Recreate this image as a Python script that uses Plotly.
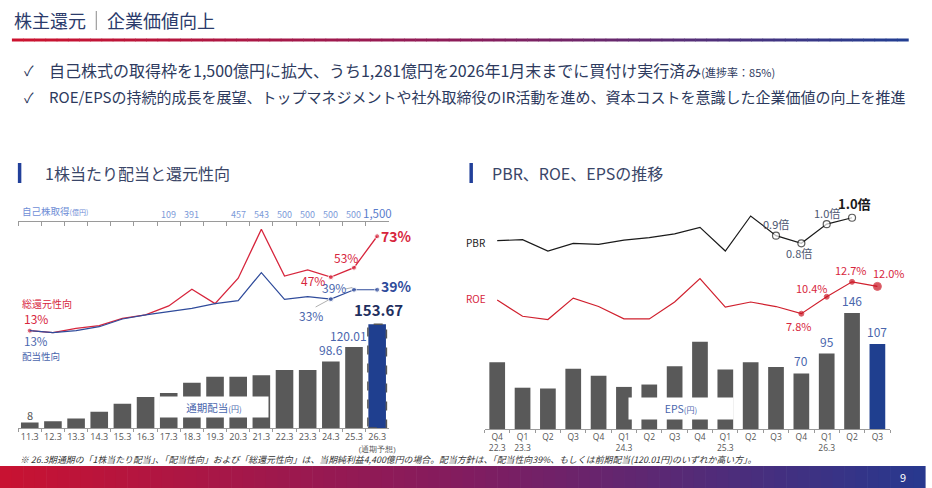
import plotly.graph_objects as go

W, H = 932, 488
FONT = "Noto Sans CJK JP, DejaVu Sans, sans-serif"

# ---- data: 1株当たり配当と還元性向 ----
fy_labels = ["11.3", "12.3", "13.3", "14.3", "15.3", "16.3", "17.3", "18.3",
             "19.3", "20.3", "21.3", "22.3", "23.3", "24.3", "25.3", "26.3"]
fy_ticktext = fy_labels[:-1] + ["26.3<br><span style='font-size:8px'>(通期予想)</span>"]
dividend = [8, 10, 14, 24, 36, 46, 52, 67, 76, 76, 78, 86, 86, 98.6, 120.01, 153.67]
total_return = [13, 11.7, 14.5, 16.2, 20.8, 23, 28.7, 39.3, 30.2, 46.3, 77.4, 47.7, 51.6, 47, 53, 73]
payout = [13, 11.7, 13, 15.5, 20.4, 23, 25.1, 27.2, 30.2, 32.1, 49.9, 32.9, 34.6, 33, 39, 39]
buyback = [None, None, None, None, None, None, 109, 391, None, 457, 543, 500, 500, 500, 500, 1500]

# ---- data: PBR, ROE, EPS ----
q_keys = ["q%d" % i for i in range(16)]
q_ticktext = ["Q4<br>22.3", "Q1<br>23.3", "Q2", "Q3", "Q4", "Q1<br>24.3", "Q2", "Q3",
              "Q4", "Q1<br>25.3", "Q2", "Q3", "Q4", "Q1<br>26.3", "Q2", "Q3"]
eps = [84, 52, 51, 76, 67, 53, 56, 79, 110, 75, 84, 78, 70, 95, 146, 107]
pbr = [0.825, 0.834, 0.728, 0.80, 0.79, 0.83, 0.853, 0.888, 0.95, 0.728, 1.056, 0.872, 0.80, 0.98, 1.04]
roe = [9.9, 7.4, 6.9, 10.2, 8.9, 7.0, 7.0, 9.6, 13.2, 8.8, 9.6, 8.9, 7.8, 10.4, 12.7, 12.0]


def X(px):
    return px / W


def Y(py):
    return 1 - py / H


GRAY = "#595959"
NAVY = "#1f3f8f"
RED = "#d7263d"
BLUE = "#2f4b9b"
LBLUE = "#4a66ad"
TXT = "#2d3a5e"

fig = go.Figure()

# left chart
fig.add_trace(go.Bar(
    x=fy_labels, y=dividend, width=0.76,
    marker=dict(color=[GRAY] * 15 + [NAVY], line=dict(width=0)),
    xaxis="x", yaxis="y", hoverinfo="skip"))
fig.add_trace(go.Scatter(
    x=fy_labels, y=total_return, mode="lines+markers",
    line=dict(color=RED, width=1.3),
    marker=dict(color=RED, size=[5] + [0] * 12 + [5, 5, 5]),
    xaxis="x", yaxis="y2", hoverinfo="skip"))
fig.add_trace(go.Scatter(
    x=fy_labels, y=payout, mode="lines+markers",
    line=dict(color=BLUE, width=1.2),
    marker=dict(color=BLUE, size=[0] * 13 + [5, 5, 5]),
    xaxis="x", yaxis="y2", hoverinfo="skip"))
# top axis for 自己株取得
fig.add_trace(go.Scatter(
    x=fy_labels, y=[0] * 16, mode="markers", marker=dict(opacity=0),
    xaxis="x3", yaxis="y", hoverinfo="skip"))

# right chart
fig.add_trace(go.Bar(
    x=q_keys, y=eps, width=0.62,
    marker=dict(color=[GRAY] * 15 + [NAVY], line=dict(width=0)),
    xaxis="x2", yaxis="y3", hoverinfo="skip"))
fig.add_trace(go.Scatter(
    x=q_keys[:15], y=pbr, mode="lines+markers",
    line=dict(color="#1a1a1a", width=1.2),
    marker=dict(color="white", size=[0] * 11 + [7, 7, 7, 7],
                line=dict(color="#1a1a1a", width=[0] * 11 + [1.2] * 4)),
    xaxis="x2", yaxis="y4", hoverinfo="skip"))
fig.add_trace(go.Scatter(
    x=q_keys, y=roe, mode="lines+markers",
    line=dict(color="#d0202e", width=1.2),
    marker=dict(color="#c8101e", size=[0] * 12 + [5, 5, 5, 8]),
    xaxis="x2", yaxis="y5", hoverinfo="skip"))

ann = []


def note(x, y, text, size=11, color=TXT, xanchor="center", yanchor="middle",
         xref="paper", yref="paper", xshift=0, yshift=0, **kw):
    ann.append(dict(x=x, y=y, text=text, xref=xref, yref=yref, showarrow=False,
                    xanchor=xanchor, yanchor=yanchor, xshift=xshift, yshift=yshift,
                    font=dict(family=FONT, size=size, color=color), **kw))


# header
note(X(12), Y(20), "株主還元", size=18, color="#2b3b6b", xanchor="left")
note(X(106), Y(20), "企業価値向上", size=18, color="#2b3b6b", xanchor="left")
note(X(22), Y(70), "✓", size=14, color=TXT, xanchor="left")
note(X(22), Y(97), "✓", size=14, color=TXT, xanchor="left")
note(X(47), Y(70), "自己株式の取得枠を1,500億円に拡大、うち1,281億円を2026年1月末までに買付け実行済み"
     "<span style='font-size:11px'>(進捗率：85%)</span>", size=16, color=TXT, xanchor="left")
note(X(47), Y(97), "ROE/EPSの持続的成長を展望、トップマネジメントや社外取締役のIR活動を進め、資本コストを意識した企業価値の向上を推進",
     size=15, color=TXT, xanchor="left")
note(X(43), Y(173), "1株当たり配当と還元性向", size=16, color="#3a4668", xanchor="left")
note(X(494), Y(173), "PBR、ROE、EPSの推移", size=16, color="#3a4668", xanchor="left")

# left chart texts (x given as category index)
note(X(20), Y(211), "自己株取得<span style='font-size:7px'>(億円)</span>", size=9.5,
     color="#6f8ed6", xanchor="left")
for i, v in enumerate(buyback):
    if v is None:
        continue
    if i == 15:
        note(i, Y(213), "{:,}".format(v), size=11.5, color="#5a7ccc", xref="x")
    else:
        note(i, Y(214), "{:,}".format(v), size=9, color="#7b9ad8", xref="x")

note(X(20), Y(356), "配当性向", size=9.5, color=LBLUE, xanchor="left")
note(X(20), Y(303), "総還元性向", size=10, color=RED, xanchor="left")
note(0, total_return[0], "13%", size=12, color=RED, xref="x", yref="y2",
     xshift=6, yshift=12)
note(0, payout[0], "13%", size=11.5, color=LBLUE, xref="x", yref="y2",
     xshift=6, yshift=-10)
note(13, total_return[13], "47%", size=12, color=RED, xref="x", yref="y2",
     xanchor="right", xshift=-4, yshift=-3)
note(14, total_return[14], "53%", size=12, color=RED, xref="x", yref="y2",
     xshift=-8, yshift=10)
note(15, total_return[15], "<b>73%</b>", size=14, color=RED, xref="x",
     yref="y2", xanchor="left", xshift=2)
note(14, payout[14], "39%", size=12, color=LBLUE, xref="x", yref="y2",
     xanchor="right", xshift=-6, yshift=2)
note(13, payout[13], "33%", size=12, color=LBLUE, xref="x", yref="y2",
     xshift=-20, yshift=-16)
note(15, payout[15], "<b>39%</b>", size=14, color=BLUE, xref="x",
     yref="y2", xanchor="left", xshift=2, yshift=4)

note(0, dividend[0], "8", size=11, color="#555555", xref="x", yref="y",
     yanchor="bottom", yshift=-2)
note(13, dividend[13], "98.6", size=12, color=LBLUE, xref="x", yref="y",
     yanchor="bottom", yshift=1)
note(14, dividend[14], "120.01", size=12, color=LBLUE, xref="x", yref="y",
     yanchor="bottom", xshift=-5, yshift=1)
note(15, dividend[15], "<b>153.67</b>", size=15, color="#1f2f5f",
     xref="x", yref="y", yanchor="bottom", xshift=1, yshift=2)
note(X(216), Y(407), "通期配当<span style='font-size:8px'>(円)</span>", size=10.5,
     color="#4a66ad", bgcolor="white", width=106, height=18)

# right chart texts
note(X(468), Y(242), "PBR", size=10, color="#222222", xanchor="left")
note(X(468), Y(298), "ROE", size=10, color=RED, xanchor="left")
PB = "#4d5670"
note(11, pbr[11], "0.9倍", size=11, color=PB, xref="x2", yref="y4", yshift=12)
note(12, pbr[12], "0.8倍", size=11, color=PB, xref="x2", yref="y4", xshift=-2, yshift=-10)
note(13, pbr[13], "1.0倍", size=11, color=PB, xref="x2", yref="y4", yshift=11)
note(14, pbr[14], "<b>1.0倍</b>", size=13, color="#1a1a1a", xref="x2",
     yref="y4", xshift=2, yshift=14)
note(12, roe[12], "7.8%", size=11, color=RED, xref="x2", yref="y5", xshift=-3, yshift=-12)
note(13, roe[13], "10.4%", size=11, color=RED, xref="x2", yref="y5", xshift=-15, yshift=9)
note(14, roe[14], "12.7%", size=11, color=RED, xref="x2", yref="y5", xshift=-1, yshift=12)
note(15, roe[15], "12.0%", size=11, color=RED, xref="x2", yref="y5", xshift=12, yshift=13)
for i in (12, 13, 14, 15):
    note(i, eps[i], str(eps[i]), size=12, color=LBLUE, xref="x2", yref="y3",
         yanchor="bottom", yshift=2)
note(X(686), Y(408), "EPS<span style='font-size:8px'>(円)</span>", size=10.5,
     color="#4a66ad", bgcolor="white", width=102, height=19)

# footnote and page number
note(X(18), Y(459), "<i>※ 26.3期通期の「1株当たり配当」、「配当性向」および「総還元性向」は、当期純利益4,400億円の場合。"
     "配当方針は、「配当性向39%、もしくは前期配当(120.01円)のいずれか高い方」。</i>",
     size=8.9, color="#333333", xanchor="left")
note(X(910), Y(477), "9", size=11, color="white")

shapes = []


def mix(c1, c2, t):
    return "rgb(%d,%d,%d)" % tuple(round(a + (b - a) * t) for a, b in zip(c1, c2))


def grad(x0, x1, y0, y1, stops, n=80):
    for k in range(n):
        t = k / (n - 1)
        if t <= 0.5:
            col = mix(stops[0], stops[1], t / 0.5)
        else:
            col = mix(stops[1], stops[2], (t - 0.5) / 0.5)
        a = x0 + (x1 - x0) * k / n
        b = x0 + (x1 - x0) * (k + 1) / n + 0.6
        shapes.append(dict(type="rect", xref="paper", yref="paper", x0=X(a), x1=X(b),
                           y0=Y(y1), y1=Y(y0), fillcolor=col, line=dict(width=0),
                           layer="below"))


grad(12, 915, 38.5, 41.5, [(204, 18, 46), (140, 28, 90), (34, 62, 146)])
grad(0, 932, 466, 488, [(200, 18, 50), (130, 28, 95), (40, 56, 142)])

shapes.append(dict(type="line", xref="paper", yref="paper", x0=X(97), x1=X(97),
                   y0=Y(11), y1=Y(30), line=dict(color="#8a8a8a", width=1)))
shapes.append(dict(type="rect", xref="paper", yref="paper", x0=X(18), x1=X(21.5),
                   y0=Y(183), y1=Y(163), fillcolor="#22409a", line=dict(width=0)))
shapes.append(dict(type="rect", xref="paper", yref="paper", x0=X(473), x1=X(476.5),
                   y0=Y(183), y1=Y(163), fillcolor="#22409a", line=dict(width=0)))
# dashed outline of the forecast bar
shapes.append(dict(type="rect", xref="x", yref="y", x0=14.6, x1=15.4, y0=0,
                   y1=dividend[15], line=dict(color="#555555", width=1.5, dash="dash")))
# leader lines
shapes.append(dict(type="line", xref="paper", yref="paper", x0=X(318), x1=X(331),
                   y0=Y(307), y1=Y(300), line=dict(color="#b0b0b0", width=1)))
shapes.append(dict(type="line", xref="paper", yref="paper", x0=X(348), x1=X(355),
                   y0=Y(289), y1=Y(287.5), line=dict(color="#b0b0b0", width=1)))

tickfont = dict(family="Open Sans, DejaVu Sans, sans-serif", size=9, color="#555555")
fig.update_layout(
    width=W, height=H, margin=dict(l=0, r=0, t=0, b=0),
    paper_bgcolor="white", plot_bgcolor="white", showlegend=False,
    annotations=ann, shapes=shapes,
    xaxis=dict(domain=[X(18.33), X(391.67)], anchor="y", type="category",
               range=[-0.5, 15.5], tickmode="array", tickvals=fy_labels,
               ticktext=fy_ticktext, tickangle=0,
               tickson="boundaries", ticks="outside", ticklen=3, tickcolor="#9a9a9a",
               showline=True, linecolor="#9a9a9a", linewidth=1.2, showgrid=False,
               tickfont=tickfont),
    xaxis3=dict(overlaying="x", anchor="free", position=Y(220.7), type="category",
                range=[-0.5, 15.5],
                tickson="boundaries", ticks="outside", ticklen=4, tickcolor="#9a9a9a",
                showline=True, linecolor="#9a9a9a", linewidth=1.2, showgrid=False,
                showticklabels=False),
    yaxis=dict(domain=[Y(428), Y(218)], range=[0, 311.1], visible=False),
    yaxis2=dict(overlaying="y", range=[-48.9, 84.6], visible=False),
    xaxis2=dict(domain=[X(488.2), X(896.8)], anchor="y3", type="category",
                range=[-0.5, 15.5], tickmode="array", tickvals=q_keys,
                ticktext=q_ticktext, tickangle=0,
                tickson="boundaries", ticks="outside", ticklen=3, tickcolor="#9a9a9a",
                showline=True, linecolor="#9a9a9a", linewidth=1.2, showgrid=False,
                tickfont=dict(family="Open Sans, DejaVu Sans, sans-serif", size=8.5,
                              color="#555555")),
    yaxis3=dict(domain=[Y(429), Y(195)], range=[0, 294.7], anchor="x2", visible=False),
    yaxis4=dict(overlaying="y3", anchor="x2", range=[-0.94, 1.253], visible=False),
    yaxis5=dict(overlaying="y3", anchor="x2", range=[-9.94, 26.06], visible=False),
)

# page body margin would shift the slide by 8px
fig.write_html("out.html", config={"displayModeBar": False},
               post_script="document.body.style.margin='0';")
